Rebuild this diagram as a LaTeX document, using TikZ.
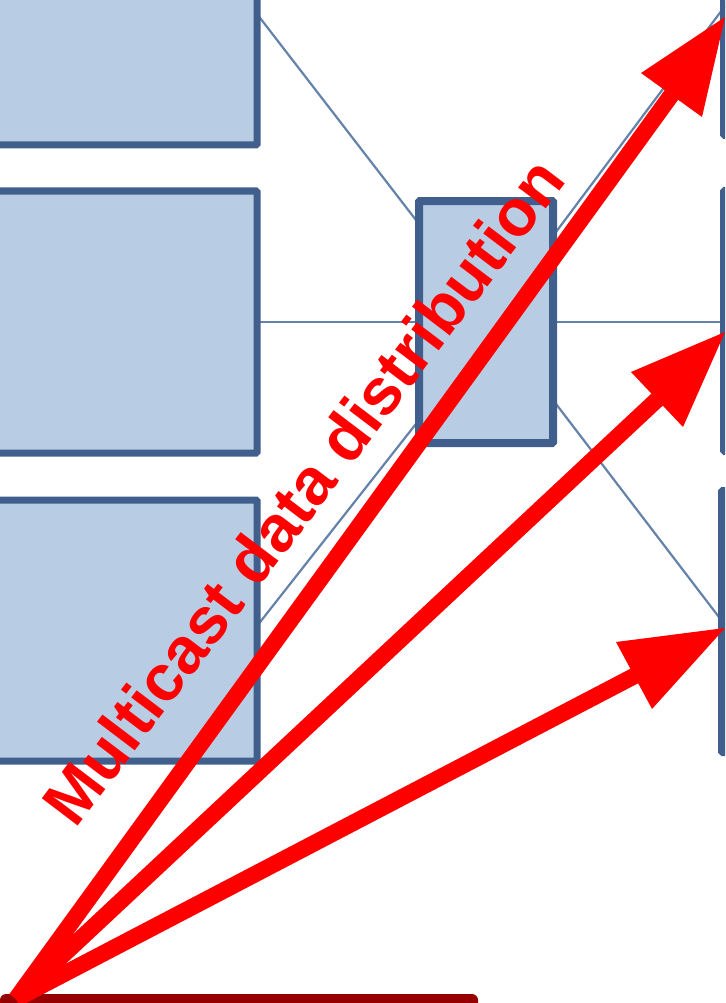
\documentclass[tikz,border=0pt]{standalone}
\usepackage{fontspec}
\setmainfont{Liberation Sans}
\definecolor{boxfill}{RGB}{184,205,228}
\definecolor{boxedge}{RGB}{65,95,140}
\definecolor{thinline}{RGB}{100,130,170}
\definecolor{darkred}{RGB}{150,0,0}
\tikzset{
  x=1pt,y=-1pt,
  blockbox/.style={draw=boxedge,fill=boxfill,line width=7pt,rounded corners=1pt,inner sep=0pt},
  hubbox/.style={blockbox,line width=8pt},
  link/.style={draw=thinline,line width=2.2pt},
  redline/.style={draw=red,line width=16.5pt},
  redhead/.style={fill=red,draw=none},
  redlabel/.style={text=red,font=\bfseries\fontsize{65.5}{65.5}\selectfont,rotate=52.8,inner sep=0pt}
}
\begin{document}
\begin{tikzpicture}
\useasboundingbox (0,0) rectangle (725,1003);
\begin{scope}
\clip (0,0) rectangle (725,1003);
\coordinate (L1) at (257,14);
\coordinate (L2) at (257,322);
\coordinate (L3) at (257,626);
\coordinate (R1) at (725,6);
\coordinate (R2) at (725,322);
\coordinate (R3) at (725,625);
\coordinate (CL) at (419,224);
\coordinate (CM) at (419,322);
\coordinate (CB) at (419,420);
\coordinate (DT) at (553,236);
\coordinate (DM) at (553,322);
\coordinate (DB) at (553,400);
\draw[link] (L1) -- (CL);
\draw[link] (L2) -- (CM);
\draw[link] (L3) -- (CB);
\draw[link] (DT) -- (R1);
\draw[link] (DM) -- (R2);
\draw[link] (DB) -- (R3);
\path[blockbox] (-20,-20) rectangle (257,145);
\path[blockbox] (-20,191) rectangle (257,453);
\path[blockbox] (-20,500) rectangle (257,761);
\path[hubbox] (419,201) rectangle (553,443);
\path[hubbox] (724,-20) rectangle (745,135);
\path[hubbox] (724,191) rectangle (745,451);
\path[hubbox] (722,491) rectangle (745,752);
\path[fill=darkred,rounded corners=6pt] (0,994) rectangle (478,1030);
\coordinate (O) at (16,999);
\coordinate (T1) at (725,17);
\coordinate (T2) at (725,332);
\coordinate (T3) at (725,628);
\draw[redline] (O) -- (675,90);
\draw[redline] (O) -- (662,395);
\draw[redline] (O) -- (640,673);
\fill[redhead] (T1) -- (641,73) -- (702,117) -- cycle;
\fill[redhead] (T2) -- (631,372) -- (683,427) -- cycle;
\fill[redhead] (T3) -- (616,642) -- (652,709) -- cycle;
\node[redlabel] (lbl) at (303,491) {Multicast data distribution};
\end{scope}
\end{tikzpicture}
\end{document}
